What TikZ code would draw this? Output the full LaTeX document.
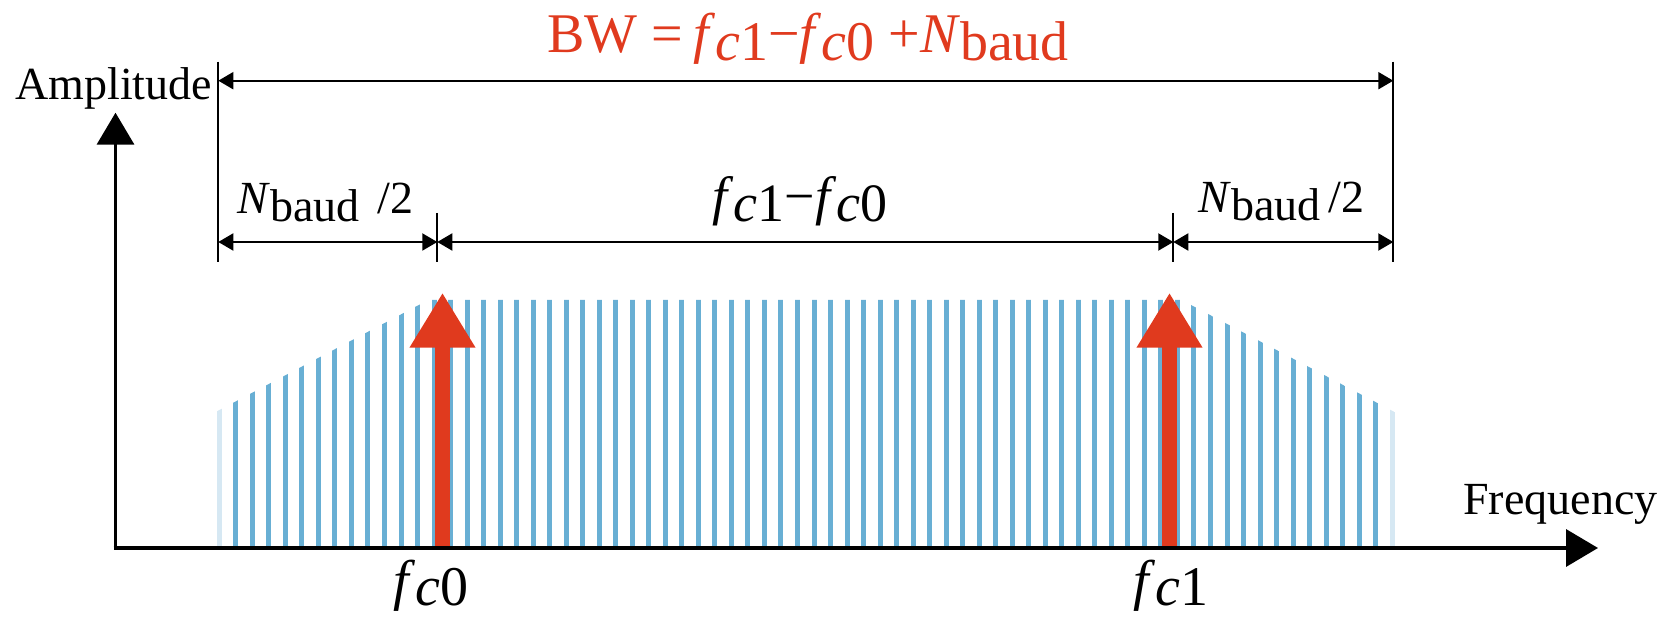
\documentclass[tikz,border=0pt]{standalone}
\usepackage{fontspec}
\setmainfont{Liberation Serif}
\usetikzlibrary{arrows.meta}
\definecolor{bwred}{RGB}{224,58,30}
\definecolor{barblue}{RGB}{104,175,212}
\definecolor{barfaint}{RGB}{214,232,243}
\newcommand{\lo}[2][4pt]{\raisebox{-#1}{#2}}
\newcommand{\mns}{\char"2212}
\begin{document}
\begin{tikzpicture}[x=0.5pt,y=-0.5pt,
  axisline/.style={line width=1.8pt,-{Triangle[length=16pt,width=18.5pt]}},
  dimline/.style={line width=1pt,{Triangle[length=7.5pt,width=8.5pt]}-{Triangle[length=7.5pt,width=8.5pt]}},
  extline/.style={line width=1pt},
  stripe/.style={line width=2.5pt,barblue},
  carrier/.style={line width=7.5pt,bwred,-{Triangle[length=27.5pt,width=31pt]}},
  lbl/.style={inner sep=0pt,anchor=base west}]
\useasboundingbox (0,0) rectangle (1676,619);

% spectrum stripes
\begin{scope}
\clip (216,550) -- (216,411.8) -- (428.3,300) -- (1181.5,300) -- (1396,412.8) -- (1396,550) -- cycle;
\foreach \i in {1,...,70} \draw[stripe] ({219.3+16.52*\i},550) -- ++(0,-270);
\draw[stripe,barfaint] (219.3,550) -- ++(0,-270);
\draw[stripe,barfaint] ({219.3+16.52*71},550) -- ++(0,-270);
\end{scope}

% carriers
\coordinate (c0b) at (442.5,546);
\coordinate (c0t) at (442.5,292.7);
\coordinate (c1b) at (1169.5,546);
\coordinate (c1t) at (1169.5,292.7);
\draw[carrier] (c0b) -- (c0t);
\draw[carrier] (c1b) -- (c1t);

% axes
\coordinate (O) at (115.5,548);
\coordinate (xstart) at (113.7,548);
\coordinate (ytip) at (115.5,112.7);
\coordinate (xtip) at (1598,548);
\draw[axisline] (O) -- (ytip);
\draw[axisline] (xstart) -- (xtip);

% extension lines
\coordinate (eLt) at (218.3,61.7);
\coordinate (eLb) at (218.3,261.7);
\coordinate (eRt) at (1393.3,61.7);
\coordinate (eRb) at (1393.3,261.7);
\coordinate (t0t) at (437.3,213);
\coordinate (t0b) at (437.3,261.7);
\coordinate (t1t) at (1173.3,213);
\coordinate (t1b) at (1173.3,261.7);
\draw[extline] (eLt) -- (eLb);
\draw[extline] (eRt) -- (eRb);
\draw[extline] (t0t) -- (t0b);
\draw[extline] (t1t) -- (t1b);

% dimension lines
\coordinate (bwL) at (218.3,80.7);
\coordinate (bwR) at (1393.3,80.7);
\coordinate (dL) at (218.3,242);
\coordinate (d0) at (437.3,242);
\coordinate (d1) at (1173.3,242);
\coordinate (dR) at (1393.3,242);
\draw[dimline] (bwL) -- (bwR);
\draw[dimline] (dL) -- (d0);
\draw[dimline] (d0) -- (d1);
\draw[dimline] (d1) -- (dR);

% labels
\node[lbl,font=\fontsize{23pt}{25pt}\selectfont] (amp) at (15,100) {Amplitude};
\node[lbl,font=\fontsize{23pt}{25pt}\selectfont] (freq) at (1463,515) {Frequency};
\node[lbl,text=bwred,font=\fontsize{28pt}{30pt}\selectfont] (bw) at (547,53)
  {BW\hspace{7pt}=\hspace{5pt}\textit{f}\lo{\textit{c}1}\mns\textit{f}\lo{\textit{c}0}\hspace{7pt}+\textit{N}\lo{baud}};
\node[lbl,font=\fontsize{27pt}{29pt}\selectfont] (mid) at (712,215)
  {\textit{f}\lo[3.5pt]{\textit{c}1}\mns\textit{f}\lo[3.5pt]{\textit{c}0}};
\node[lbl,font=\fontsize{23pt}{25pt}\selectfont] (nl) at (237,214)
  {\textit{N}\lo{baud}\hspace{9pt}/2};
\node[lbl,font=\fontsize{23pt}{25pt}\selectfont] (nr) at (1198,213)
  {\textit{N}\lo{baud}\hspace{4pt}/2};
\node[lbl,font=\fontsize{28pt}{30pt}\selectfont] (fc0) at (393,600)
  {\textit{f}\lo[3pt]{\textit{c}0}};
\node[lbl,font=\fontsize{28pt}{30pt}\selectfont] (fc1) at (1133,600)
  {\textit{f}\lo[3pt]{\textit{c}1}};
\end{tikzpicture}
\end{document}
